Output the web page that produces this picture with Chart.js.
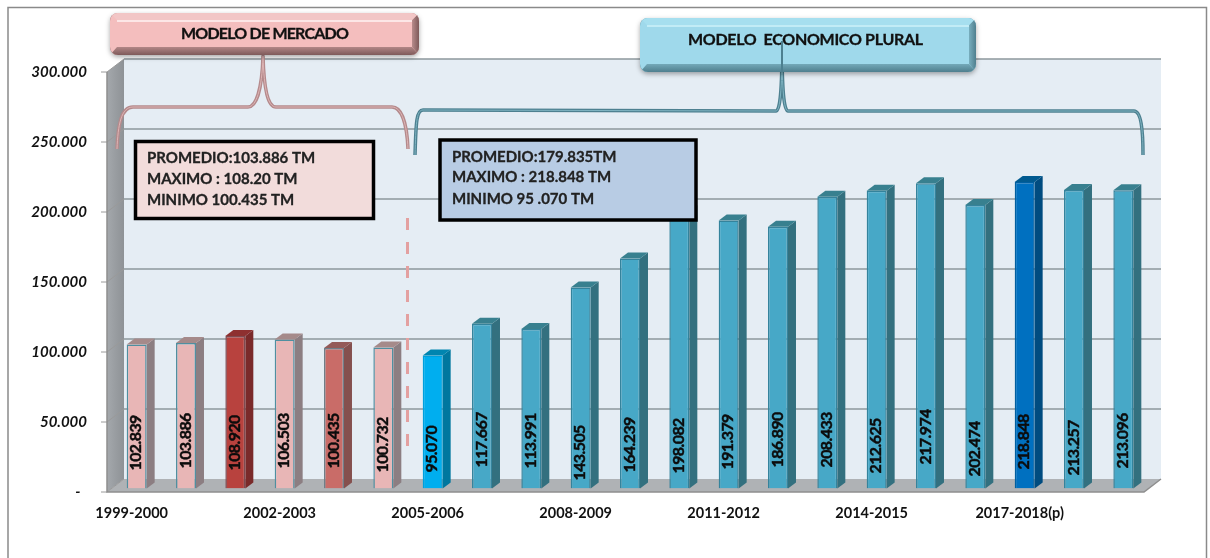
<!DOCTYPE html>
<html>
<head>
<meta charset="utf-8">
<style>html,body{margin:0;padding:0;background:#fff;overflow:hidden}canvas{display:block}</style>
<script src="https://cdn.jsdelivr.net/npm/chart.js@4"></script>
</head>
<body>
<canvas id="c" width="1210" height="558"></canvas>
<script>
const categories = ['1999-2000','2000-2001','2001-2002','2002-2003','2003-2004','2004-2005','2005-2006','2006-2007','2007-2008','2008-2009','2009-2010','2010-2011','2011-2012','2012-2013','2013-2014','2014-2015','2015-2016','2016-2017','2017-2018(p)','2018-2019(p)','2019-2020(p)'];
const values = [102839,103886,108920,106503,100435,100732,95070,117667,113991,143505,164239,198082,191379,186890,208433,212625,217974,202474,218848,213257,213096];
const PINK='#E8B6B6',RED='#B8423E',ROSE='#C96C68',SKY='#00AEEF',TEAL='#47A8C7',NAVY='#0070C0';
const barColors=[PINK,PINK,RED,PINK,ROSE,PINK,SKY,TEAL,TEAL,TEAL,TEAL,TEAL,TEAL,TEAL,TEAL,TEAL,TEAL,TEAL,NAVY,TEAL,TEAL];
const sideColors={[PINK]:'#8C7E82',[RED]:'#7A2A2A',[ROSE]:'#85504E',[SKY]:'#00779F',[TEAL]:'#33707F',[NAVY]:'#004C80'};
const topColors={[PINK]:'#A58A8A',[RED]:'#8E3030',[ROSE]:'#945A58',[SKY]:'#0085B0',[TEAL]:'#38808F',[NAVY]:'#005A90'};
const edgeColors={[PINK]:'#4F8FA0',[RED]:'#7E4A50',[ROSE]:'#6E7E88',[SKY]:'#00A0DC',[TEAL]:'#34839C',[NAVY]:'#005FA0'};
const yTicks=[0,50000,100000,150000,200000,250000,300000];
const marketBox=['PROMEDIO:103.886 TM','MAXIMO : 108.20 TM','MINIMO 100.435 TM'];
const pluralBox=['PROMEDIO:179.835TM','MAXIMO : 218.848 TM','MINIMO 95 .070 TM'];
const labelRise=[18,20,18,20,20,16,16,21,20,8,16,15,19,21,21,15,24,12,19,13,20];
const DX=17,DY=13,PY=3.5,WALL_R=1161;

function rr(ctx,x,y,w,h,r){ctx.beginPath();ctx.roundRect(x,y,w,h,r);}
function bevelBox(ctx,x,y,w,h,c,text,tx,ty,spacing){
  ctx.save();
  ctx.shadowColor='rgba(0,0,0,0.35)';ctx.shadowBlur=5;ctx.shadowOffsetY=2;
  rr(ctx,x,y,w,h,8);ctx.fillStyle=c.dark;ctx.fill();
  ctx.restore();
  ctx.save();
  rr(ctx,x,y,w,h,8);ctx.clip();
  ctx.fillStyle=c.main;ctx.fillRect(x,y,w,h);
  let g=ctx.createLinearGradient(0,y+h-9,0,y+h);g.addColorStop(0,c.right);g.addColorStop(1,c.dark);
  ctx.fillStyle=g;ctx.beginPath();ctx.moveTo(x,y+h);ctx.lineTo(x+7,y+h-8);ctx.lineTo(x+w-7,y+h-8);ctx.lineTo(x+w,y+h);ctx.closePath();ctx.fill();
  g=ctx.createLinearGradient(x+w-7,0,x+w,0);g.addColorStop(0,c.right);g.addColorStop(1,c.dark);
  ctx.fillStyle=g;ctx.beginPath();ctx.moveTo(x+w,y);ctx.lineTo(x+w-7,y+7);ctx.lineTo(x+w-7,y+h-8);ctx.lineTo(x+w,y+h);ctx.closePath();ctx.fill();
  ctx.fillStyle=c.light;ctx.beginPath();ctx.moveTo(x,y);ctx.lineTo(x+w,y);ctx.lineTo(x+w-7,y+7);ctx.lineTo(x+7,y+7);ctx.closePath();ctx.fill();
  ctx.fillStyle=c.hi;ctx.fillRect(x+7,y+7,w-14,2);
  ctx.restore();
  ctx.save();
  ctx.fillStyle='#111';ctx.strokeStyle='#111';ctx.lineWidth=0.3;ctx.font='bold 16px Lato';ctx.letterSpacing=spacing;ctx.textAlign='left';ctx.textBaseline='middle';
  ctx.fillText(text,tx,ty);ctx.strokeText(text,tx,ty);
  ctx.restore();
}
function brace(ctx,pts,dark,light){
  const path=()=>{ctx.beginPath();ctx.moveTo(pts[0][0],pts[0][1]);
    for(let i=1;i<pts.length;i++){const p=pts[i];
      if(p.length===2)ctx.lineTo(p[0],p[1]);else ctx.bezierCurveTo(p[0],p[1],p[2],p[3],p[4],p[5]);}};
  ctx.save();ctx.lineJoin='round';
  path();ctx.strokeStyle=dark;ctx.lineWidth=3.5;ctx.stroke();
  path();ctx.strokeStyle=light;ctx.lineWidth=1;ctx.stroke();
  ctx.restore();
}
function infoBox(ctx,x,y,w,h,fill,lines,tx,tys){
  ctx.fillStyle=fill;ctx.fillRect(x,y,w,h);
  ctx.strokeStyle='#000';ctx.lineWidth=3.5;ctx.strokeRect(x,y,w,h);
  ctx.fillStyle='#222';ctx.strokeStyle='#222';ctx.lineWidth=0.3;ctx.font='bold 15px Lato';ctx.textAlign='left';ctx.textBaseline='middle';
  lines.forEach((l,i)=>{ctx.fillText(l,tx,tys[i]);ctx.strokeText(l,tx,tys[i]);});
}

const scene={
  id:'scene',
  beforeDatasetsDraw(chart){
    const {ctx,scales:{y}}=chart;
    const x0=107,top=y.getPixelForValue(300000),bot=y.getPixelForValue(0);
    ctx.save();
    ctx.strokeStyle='#8a8a8a';ctx.lineWidth=1.5;
    ctx.beginPath();ctx.moveTo(8,558);ctx.lineTo(8,7.5);ctx.lineTo(1206.5,7.5);ctx.lineTo(1206.5,558);ctx.stroke();
    ctx.fillStyle='#E5EDF4';ctx.fillRect(x0+DX,top-DY,WALL_R-x0-DX,bot-top);
    const g=ctx.createLinearGradient(x0,0,x0+DX,0);g.addColorStop(0,'#A4A8AC');g.addColorStop(1,'#8E9296');
    ctx.fillStyle=g;ctx.beginPath();ctx.moveTo(x0,top);ctx.lineTo(x0+DX,top-DY);ctx.lineTo(x0+DX,bot-DY);ctx.lineTo(x0,bot);ctx.closePath();ctx.fill();
    ctx.fillStyle='#AFB2B5';ctx.beginPath();ctx.moveTo(x0,bot);ctx.lineTo(x0+DX,bot-DY);ctx.lineTo(WALL_R,bot-DY);ctx.lineTo(WALL_R-DX,bot);ctx.closePath();ctx.fill();
    yTicks.forEach(v=>{
      const p=y.getPixelForValue(v);
      if(v>0){ctx.strokeStyle='#8C979C';ctx.lineWidth=1.5;ctx.beginPath();ctx.moveTo(x0+DX,p-DY);ctx.lineTo(WALL_R,p-DY);ctx.stroke();}
      ctx.strokeStyle='#9A9A9A';ctx.lineWidth=1;ctx.beginPath();ctx.moveTo(x0-6,p);ctx.lineTo(x0,p);ctx.lineTo(x0+DX,p-DY);ctx.stroke();
    });
    ctx.strokeStyle='#8E8E8E';ctx.lineWidth=1.5;
    ctx.beginPath();ctx.moveTo(x0,top);ctx.lineTo(x0,bot);ctx.lineTo(WALL_R-DX,bot);ctx.lineTo(WALL_R,bot-DY);ctx.stroke();
    ctx.restore();
    ctx.save();ctx.translate(0,-PY);
  },
  afterDatasetsDraw(chart){
    const {ctx}=chart,meta=chart.getDatasetMeta(0);
    const dx=8,dy=6;
    meta.data.forEach((b,i)=>{
      const c=barColors[i],r=b.x+b.width/2,l=b.x-b.width/2;
      ctx.fillStyle=sideColors[c];ctx.beginPath();ctx.moveTo(r,b.y);ctx.lineTo(r+dx,b.y-dy);ctx.lineTo(r+dx,b.base-dy);ctx.lineTo(r,b.base);ctx.closePath();ctx.fill();
      ctx.fillStyle=topColors[c];ctx.beginPath();ctx.moveTo(l,b.y);ctx.lineTo(l+dx,b.y-dy);ctx.lineTo(r+dx,b.y-dy);ctx.lineTo(r,b.y);ctx.closePath();ctx.fill();
    });
    meta.data.forEach((b,i)=>{
      const t=(values[i]/1000).toFixed(3);
      ctx.save();ctx.translate(b.x-0.5,b.base-labelRise[i]);ctx.rotate(-Math.PI/2);
      ctx.fillStyle='#0c0c0c';ctx.strokeStyle='#0c0c0c';ctx.lineWidth=0.45;ctx.font='bold 16px Lato';ctx.letterSpacing='-0.6px';ctx.textAlign='left';ctx.textBaseline='middle';
      ctx.fillText(t,0,0);ctx.strokeText(t,0,0);
      ctx.restore();
    });
    ctx.restore();
  },
  afterDraw(chart){
    const {ctx}=chart;
    ctx.save();
    ctx.strokeStyle='#E3A0A0';ctx.lineWidth=3;ctx.setLineDash([12,12]);
    ctx.beginPath();ctx.moveTo(407.5,218);ctx.lineTo(407.5,456);ctx.stroke();ctx.setLineDash([]);
    infoBox(ctx,135.5,141.5,238,77,'#F2DCDB',marketBox,147,[158.5,179,200]);
    infoBox(ctx,440,140,256,80,'#B8CCE4',pluralBox,452,[157,177.5,199]);
    brace(ctx,[[117,149],[118,125,121,107,133,107],[248,107],[256,107,262,90,263,56],[264,90,268,107,276,107],[392,107],[402,107,407,125,408,149]],'#B48A8C','#DDB4B4');
    brace(ctx,[[415,155],[416,125,416,110,423,110],[776,111],[780,111,782,90,782,46],[782,90,784,111,788,111],[1134,111],[1141,111,1143,130,1143,155]],'#4D8090','#7FB4C2');
    bevelBox(ctx,110,13,309,42,{main:'#F4BEBE',light:'#F2C6C6',hi:'#FCE6E6',right:'#B88C8C',dark:'#7E5A5A'},'MODELO DE MERCADO',181,34,'-0.8px');
    bevelBox(ctx,640,18,336,54,{main:'#9FD9EB',light:'#A6DFEF',hi:'#C2ECF6',right:'#78AEBE',dark:'#4F7F8E'},'MODELO  ECONOMICO PLURAL',688,40,'-0.3px');
    ctx.strokeStyle='#4D8090';ctx.lineWidth=2;ctx.beginPath();ctx.moveTo(782,72);ctx.lineTo(782,41);ctx.stroke();
    ctx.restore();
  }
};

new Chart(document.getElementById('c'),{
  type:'bar',
  data:{labels:categories,datasets:[{data:values,backgroundColor:barColors,borderColor:barColors.map(c=>edgeColors[c]),borderWidth:1.5,barPercentage:0.405,categoryPercentage:1}]},
  plugins:[scene],
  options:{
    responsive:false,animation:false,devicePixelRatio:1,
    layout:{padding:{top:72,right:62,left:0,bottom:0}},
    plugins:{legend:{display:false},tooltip:{enabled:false}},
    scales:{
      x:{
        grid:{display:false,drawTicks:false},border:{display:false},
        afterFit(s){s.height=66;},
        ticks:{autoSkip:false,maxRotation:0,minRotation:0,padding:13,labelOffset:-5,color:'#111',
          font:{family:'Lato',size:14.5,weight:'bold'},
          callback(v,i){return i%3===0?this.getLabelForValue(v):'';}}
      },
      y:{
        min:0,max:300000,
        grid:{display:false,drawTicks:false},border:{display:false},
        afterFit(s){s.width=112;},
        afterBuildTicks(s){s.ticks=yTicks.map(v=>({value:v}));},
        ticks:{padding:25,color:'#111',font:{family:'Lato',size:15,weight:'bold',style:'italic'},
          callback(v){return v===0?'-\u00a0\u00a0':(v/1000).toFixed(3);}}
      }
    }
  }
});
</script>
</body>
</html>
